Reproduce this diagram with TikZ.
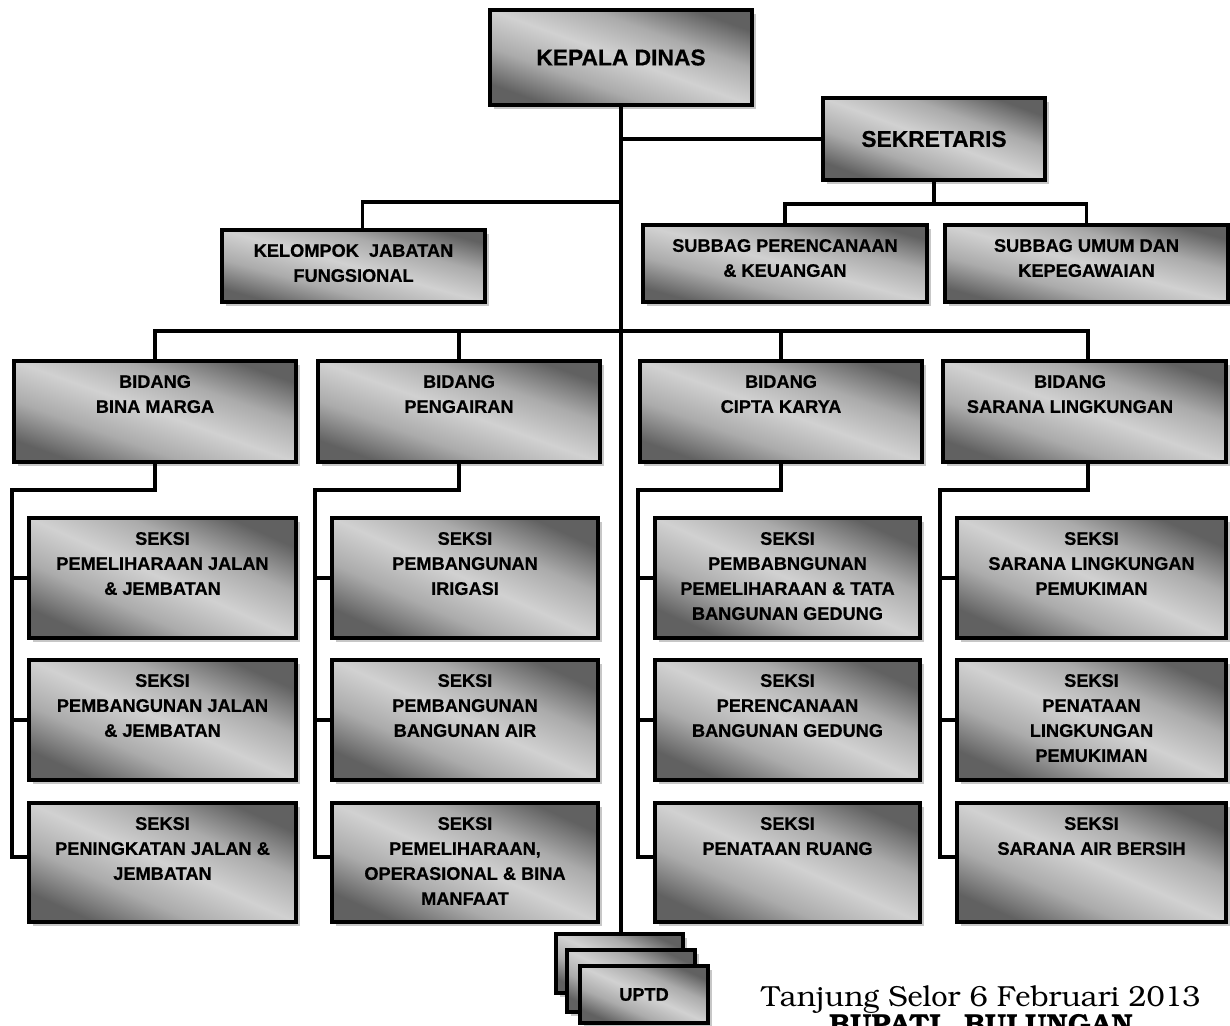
\documentclass[tikz,border=0pt]{standalone}
\usepackage{fontspec}
\setmainfont[BoldFeatures={FakeBold=0.6}]{Liberation Sans}
\usetikzlibrary{fit}
\definecolor{boxdark}{gray}{0.38}
\definecolor{boxmid}{gray}{0.67}
\definecolor{boxlight}{gray}{0.82}
\definecolor{shadowgray}{gray}{0.78}
% band along a diagonal: dark corners, broad light middle
\pgfdeclareverticalshading{orgshade}{100bp}{color(0bp)=(boxdark); color(25bp)=(boxdark);
  color(37.5bp)=(boxmid); color(50bp)=(boxlight); color(62.5bp)=(boxmid);
  color(75bp)=(boxdark); color(100bp)=(boxdark)}
\newcommand\bkserif{\fontencoding{T1}\fontfamily{pbk}\selectfont}
% shaded box with a drop shadow: name, x1, y1, x2, y2
% the shading is turned so that its light band follows the box diagonal
\newcommand\obox[5]{%
  \pgfmathsetmacro\boxang{-atan((#5-#3)/(#4-#2))}%
  \fill[boxshadow] (#2+4,#3+4) rectangle (#4+4,#5+4);
  \node[orgbox, shading angle=\boxang, fit={(#2,#3) (#4,#5)}] (#1) {};}
\begin{document}
\begin{tikzpicture}[x=0.5pt,y=-0.5pt,
  orgbox/.style={draw=black, line width=1.8pt, inner sep=0pt,
    shade, shading=orgshade},
  boxshadow/.style={fill=shadowgray},
  lbl/.style={inner sep=0pt, align=center, font=\bfseries\fontsize{9.1}{12.5}\selectfont},
  toplbl/.style={lbl, anchor=north, yshift=-7.75pt},
  biglbl/.style={inner sep=0pt, font=\bfseries\fontsize{11.4}{14}\selectfont},
  conn/.style={line width=1.6pt, draw=black}]
\useasboundingbox (0,0) rectangle (1230,1025);

% ---- junction points of the connectors
\coordinate (sekbus) at (935,204);
\coordinate (kjfjoin) at (621,202);
\coordinate (bidbus) at (621,331);
\coordinate (k1) at (12,490);
\coordinate (k2) at (315,490);
\coordinate (k3) at (638,490);
\coordinate (k4) at (940,490);

% ---- boxes
\obox{kd}{490}{10}{752}{105}
\obox{sek}{823}{98}{1045}{180}
\obox{kjf}{222}{230}{485}{302}
\obox{sbp}{643}{225}{927}{302}
\obox{sbu}{945}{225}{1228}{302}
\obox{bbm}{14}{361}{296}{462}
\obox{bpg}{318}{361}{600}{462}
\obox{bck}{640}{361}{922}{462}
\obox{bsl}{943}{361}{1226}{462}
\obox{s11}{29}{518}{296}{638}
\obox{s12}{29}{660}{296}{780}
\obox{s13}{29}{803}{296}{922}
\obox{s21}{332}{518}{598}{638}
\obox{s22}{332}{660}{598}{780}
\obox{s23}{332}{803}{598}{922}
\obox{s31}{655}{518}{920}{638}
\obox{s32}{655}{660}{920}{780}
\obox{s33}{655}{803}{920}{922}
\obox{s41}{957}{518}{1226}{638}
\obox{s42}{957}{660}{1226}{780}
\obox{s43}{957}{803}{1226}{922}

% ---- connectors
\draw[conn] (kd.south) -- (kd.south |- 0,934);
\draw[conn] (kd.south |- sek.west) -- (sek.west);
\draw[conn] (sek.south) -- (sek.south |- sekbus);
\draw[conn] (sbp.north) |- (sekbus) -| (sbu.north);
\draw[conn] (kjfjoin) -| ([xshift=4.5pt]kjf.north);
\draw[conn] (bbm.north) |- (bidbus) -| ([xshift=1.75pt]bsl.north);
\draw[conn] (bpg.north) -- (bpg.north |- bidbus);
\draw[conn] (bck.north) -- (bck.north |- bidbus);

\draw[conn] (bbm.south) |- (k1) |- ([yshift=2.75pt]s13.west);
\draw[conn] (k1 |- s11.west) -- (s11.west);
\draw[conn] (k1 |- s12.west) -- (s12.west);
\draw[conn] (bpg.south) |- (k2) |- ([yshift=2.75pt]s23.west);
\draw[conn] (k2 |- s21.west) -- (s21.west);
\draw[conn] (k2 |- s22.west) -- (s22.west);
\draw[conn] (bck.south) |- (k3) |- ([yshift=2.75pt]s33.west);
\draw[conn] (k3 |- s31.west) -- (s31.west);
\draw[conn] (k3 |- s32.west) -- (s32.west);
\draw[conn] (bsl.south -| 1088,0) |- (k4) |- ([yshift=2.75pt]s43.west);
\draw[conn] (k4 |- s41.west) -- (s41.west);
\draw[conn] (k4 |- s42.west) -- (s42.west);

% ---- UPTD stack
\obox{u1}{556}{934}{683}{993}
\obox{u2}{567}{950}{695}{1012}
\obox{u3}{580}{966}{708}{1023}

% ---- labels
\node[biglbl] (kd-t) at (kd) {KEPALA DINAS};
\node[biglbl] (sek-t) at (sek) {SEKRETARIS};
\node[toplbl] (kjf-t) at (kjf.north) {KELOMPOK\ \ JABATAN\\FUNGSIONAL};
\node[toplbl] (sbp-t) at (sbp.north) {SUBBAG PERENCANAAN\\\& KEUANGAN};
\node[toplbl] (sbu-t) at (sbu.north) {SUBBAG UMUM DAN\\KEPEGAWAIAN};
\node[toplbl] (bbm-t) at (bbm.north) {BIDANG\\BINA MARGA};
\node[toplbl] (bpg-t) at (bpg.north) {BIDANG\\PENGAIRAN};
\node[toplbl] (bck-t) at (bck.north) {BIDANG\\CIPTA KARYA};
\node[toplbl] (bsl-t) at ([xshift=-7.25pt]bsl.north) {BIDANG\\SARANA LINGKUNGAN};
\node[toplbl] (s11-t) at (s11.north) {SEKSI\\PEMELIHARAAN JALAN\\\& JEMBATAN};
\node[toplbl] (s12-t) at (s12.north) {SEKSI\\PEMBANGUNAN JALAN\\\& JEMBATAN};
\node[toplbl] (s13-t) at (s13.north) {SEKSI\\PENINGKATAN JALAN \&\\JEMBATAN};
\node[toplbl] (s21-t) at (s21.north) {SEKSI\\PEMBANGUNAN\\IRIGASI};
\node[toplbl] (s22-t) at (s22.north) {SEKSI\\PEMBANGUNAN\\BANGUNAN AIR};
\node[toplbl] (s23-t) at (s23.north) {SEKSI\\PEMELIHARAAN,\\OPERASIONAL \& BINA\\MANFAAT};
\node[toplbl] (s31-t) at (s31.north) {SEKSI\\PEMBABNGUNAN\\PEMELIHARAAN \& TATA\\BANGUNAN GEDUNG};
\node[toplbl] (s32-t) at (s32.north) {SEKSI\\PERENCANAAN\\BANGUNAN GEDUNG};
\node[toplbl] (s33-t) at (s33.north) {SEKSI\\PENATAAN RUANG};
\node[toplbl] (s41-t) at (s41.north) {SEKSI\\SARANA LINGKUNGAN\\PEMUKIMAN};
\node[toplbl] (s42-t) at (s42.north) {SEKSI\\PENATAAN\\LINGKUNGAN\\PEMUKIMAN};
\node[toplbl] (s43-t) at (s43.north) {SEKSI\\SARANA AIR BERSIH};
\node[lbl] (u3-t) at (u3) {UPTD};

% ---- signature block
\node[anchor=base, inner sep=0pt, font=\bkserif\fontsize{14.5}{18}\selectfont] (date)
  at (981,1006) {Tanjung Selor 6 Februari 2013};
\node[anchor=base, inner sep=0pt, font=\bkserif\bfseries\fontsize{14.5}{18}\selectfont] (bupati)
  at (981,1034) {BUPATI\hspace{0.8em}BULUNGAN};
\end{tikzpicture}
\end{document}
